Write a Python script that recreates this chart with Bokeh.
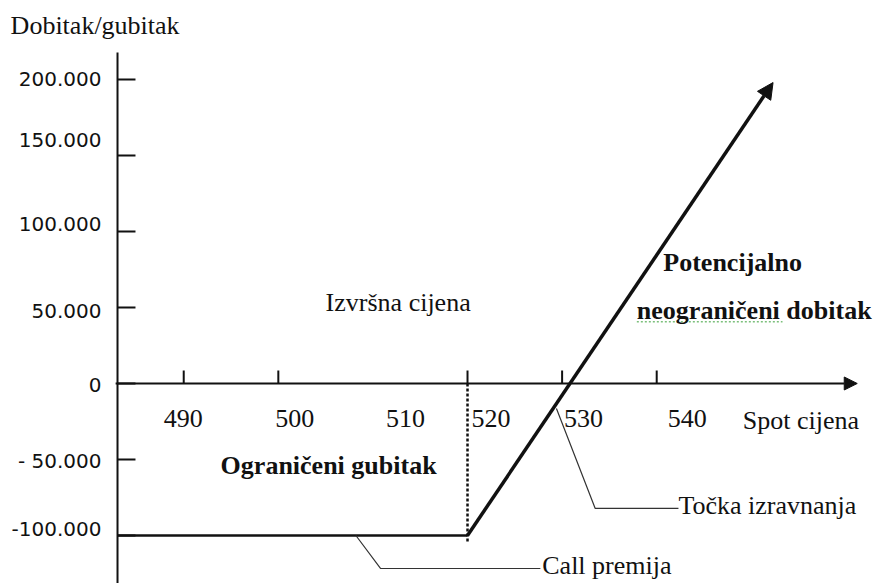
from bokeh.plotting import figure
from bokeh.models import Range1d, Arrow, NormalHead
from bokeh.core.properties import value
from bokeh.embed import file_html
from bokeh.resources import INLINE

# ---- data ----
spot = [483, 520, 552.3]                 # spot price points of the payoff line
profit = [-100000, -100000, 198000]      # profit / loss at those points
strike = 520
premium = -100000

x_tick_values = [490, 500, 520, 530, 540]
x_label_values = [490, 500, 510, 520, 530, 540]
x_label_text = ["490", "500", "510", "520", "530", "540"]
y_tick_values = [200000, 150000, 100000, 50000, 0, -50000, -100000]
y_tick_labels = ["200.000", "150.000", "100.000", "50.000", "0", "- 50.000", "-100.000"]

# ---- styling ----
SERIF = value("Liberation Serif")
SANS = value("DejaVu Sans")
FS = "26px"
INK = "#111111"
x_label_dx = [-20, -3, 13, 4, 2, 11]
y_label_dy = [0, -15, -7, 4, 2, 2, -6]

p = figure(width=882, height=583, output_backend="svg", toolbar_location=None,
           x_axis_location=None, y_axis_location=None,
           x_range=Range1d(470.63, 563.87), y_range=Range1d(-131580, 251970),
           min_border=0, outline_line_color=None)
p.grid.visible = False
p.background_fill_color = "white"
p.border_fill_color = "white"

x0 = spot[0]
# vertical axis
p.segment(x0=[x0], y0=[217800], x1=[x0], y1=[-131580], line_color=INK, line_width=2)
# horizontal axis with arrow
p.add_layout(Arrow(end=NormalHead(size=13, fill_color=INK, line_color=INK),
                   x_start=x0 - 0.2, y_start=0, x_end=561.2, y_end=0,
                   line_color=INK, line_width=2))
# y ticks
p.segment(x0=[x0] * len(y_tick_values), y0=y_tick_values,
          x1=[x0 + 1.9] * len(y_tick_values), y1=y_tick_values,
          line_color=INK, line_width=2)
# x ticks
p.segment(x0=x_tick_values, y0=[0] * len(x_tick_values),
          x1=x_tick_values, y1=[8550] * len(x_tick_values),
          line_color=INK, line_width=2)
# y tick labels
p.text(x=[481.3] * len(y_tick_values), y=y_tick_values, text=y_tick_labels,
       y_offset=y_label_dy, text_align="right", text_baseline="middle",
       text_font=SANS, text_font_size="20px", text_color=INK)
# x tick labels
p.text(x=x_label_values, y=[-23000] * len(x_label_values), text=x_label_text,
       x_offset=x_label_dx, text_align="left", text_baseline="middle",
       text_font=SERIF, text_font_size=FS, text_color=INK)

# strike dotted line
p.segment(x0=[strike], y0=[0], x1=[strike], y1=[-104000], line_color=INK,
          line_width=2.5, line_dash="3 2")

# payoff: flat part
p.line(spot[:2], profit[:2], line_color=INK, line_width=2.5)
# payoff: rising part with arrow
p.add_layout(Arrow(end=NormalHead(size=16, fill_color=INK, line_color=INK),
                   x_start=spot[1], y_start=profit[1], x_end=spot[2], y_end=profit[2],
                   line_color=INK, line_width=3.5))

# leader lines
p.line([529.4, 533.5, 542.3], [-16400, -82200, -82200], line_color="#333333", line_width=1.2)
p.line([508.2, 510.8, 527.7], [premium, -121700, -121700], line_color="#333333", line_width=1.2)

# spell-check squiggle under "neograničeni"
p.line([537.9, 553.3], [40600, 40600], line_color="#7cc07c", line_width=1.5, line_dash="2 2")

# annotation texts
def txt(x, y, s, bold=False):
    p.text(x=[x], y=[y], text=[s], text_align="left", text_baseline="middle",
           text_font=SERIF, text_font_size=FS, text_color=INK,
           text_font_style="bold" if bold else "normal")

txt(471.7, 235500, "Dobitak/gubitak")
txt(505.0, 53300, "Izvršna cijena")
txt(540.7, 79600, "Potencijalno", bold=True)
txt(537.9, 48000, "neograničeni dobitak", bold=True)
txt(493.9, -53900, "Ograničeni gubitak", bold=True)
txt(549.1, -24300, "Spot cijena")
txt(542.3, -80300, "Točka izravnanja")
txt(527.9, -119700, "Call premija")

open("out.html", "w").write(file_html(p, INLINE))
